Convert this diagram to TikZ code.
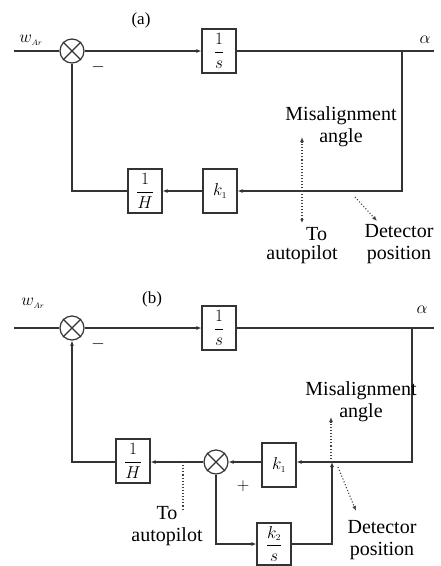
\documentclass[tikz,border=0pt]{standalone}
\usepackage{fontspec}
\setmainfont{Liberation Serif}
\usepackage{amsmath}
\usetikzlibrary{arrows.meta}
\begin{document}
\begin{tikzpicture}[x=1pt,y=-1pt,
  ln/.style={draw=black!80, line width=1.2pt},
  arr/.style={ln,-{Latex[length=5pt,width=4pt]}},
  dline/.style={draw=black!75, line width=1.1pt, dotted},
  darr/.style={dline,-{Latex[length=5pt,width=4pt]}},
  blk/.style={ln, minimum width=34pt, minimum height=44pt, inner sep=0pt, font=\fontsize{18}{18}\selectfont},
  sumc/.style={ln, circle, minimum size=24pt, inner sep=0pt},
  lbl/.style={inner sep=0pt, font=\fontsize{20}{22}\selectfont, align=center},
  sml/.style={inner sep=0pt, font=\fontsize{17}{18}\selectfont}
]
\useasboundingbox (0,0) rectangle (440,566);

% ===== (a) =====
\node[sml] (la) at (141,20) {(a)};
\node[sumc] (sa) at (72,51) {};
\draw[ln] (sa.north west) -- (sa.south east) (sa.north east) -- (sa.south west);
\coordinate (ina) at (14,51);
\node[sml] (wa) at (31,40) {$w_{\scriptscriptstyle Ar}$};
\node[blk] (inta) at (219,51) {$\dfrac{1}{s}$};
\coordinate (outa) at (434,51);
\coordinate (ja) at (402,51);
\coordinate (ca) at (402,191);
\node[sml] (alpa) at (425,40) {$\alpha$};
\node[blk] (k1a) at (220,191) {$k_{\scriptscriptstyle 1}$};
\node[blk] (Ha) at (145,191) {$\dfrac{1}{H}$};
\coordinate (cla) at (72,191);
\node[sml] (ma) at (98,67) {$-$};

\draw[ln] (ina) -- (sa.west);
\draw[arr] (sa.east) -- (inta.west);
\draw[ln] (inta.east) -- (outa);
\draw[arr] (ja) -- (ca) -- (k1a.east);
\draw[arr] (k1a.west) -- (Ha.east);
\draw[ln] (Ha.west) -- (cla) -- (sa.south);

\coordinate (da1) at (302,223);
\coordinate (da2) at (302,137);
\draw[dline,{Latex[length=4pt,width=3.5pt]}-{Latex[length=5pt,width=4pt]}] (da1) -- (da2);
\node[lbl] (misa) at (341,127) {Misalignment\\angle};
\coordinate (dd1) at (355,197);
\coordinate (dd2) at (377,221);
\draw[darr] (dd1) -- (dd2);
\node[lbl,anchor=west] (toa) at (306,234) {To};
\node[lbl] (apa) at (302,255) {autopilot};
\node[lbl] (deta) at (399,244) {Detector\\position};

% ===== (b) =====
\node[sml] (lb) at (152,299) {(b)};
\node[sumc] (sb) at (72,328) {};
\draw[ln] (sb.north west) -- (sb.south east) (sb.north east) -- (sb.south west);
\coordinate (inb) at (14,328);
\node[sml] (wb) at (33,303) {$w_{\scriptscriptstyle Ar}$};
\node[blk] (intb) at (219,328) {$\dfrac{1}{s}$};
\coordinate (outb) at (434,328);
\coordinate (jb) at (412,328);
\coordinate (cb) at (412,462);
\node[sml] (alpb) at (422,310) {$\alpha$};
\node[sml] (mb) at (98,344) {$-$};
\node[blk] (k1b) at (279,465) {$k_{\scriptscriptstyle 1}$};
\node[sumc] (s2b) at (216,462) {};
\draw[ln] (s2b.north west) -- (s2b.south east) (s2b.north east) -- (s2b.south west);
\node[blk] (Hb) at (133,461) {$\dfrac{1}{H}$};
\coordinate (clb) at (72,462);
\coordinate (jx) at (332,462);
\node[blk,minimum height=42pt] (k2b) at (274,544) {$\dfrac{k_{\scriptscriptstyle 2}}{s}$};
\coordinate (bl) at (216,544);
\coordinate (br) at (332,544);
\node[sml] (pb) at (243,486) {$+$};

\draw[ln] (inb) -- (sb.west);
\draw[arr] (sb.east) -- (intb.west);
\draw[ln] (intb.east) -- (outb);
\draw[arr] (jb) -- (cb) -- (k1b.east |- cb);
\draw[arr] (k1b.west |- s2b) -- (s2b.east);
\draw[arr] (s2b.west) -- (Hb.east |- s2b);
\draw[arr] (Hb.west |- clb) -- (clb) -- (sb.south);
\draw[arr] (s2b.south) -- (bl) -- (k2b.west);
\draw[arr] (k2b.east) -- (br) -- (jx);

\coordinate (ta1) at (183,462);
\coordinate (ta2) at (183,510);
\draw[dline] (ta1) -- (ta2);
\node[lbl] (tob) at (167,526) {To\\autopilot};
\coordinate (mb1) at (331,462);
\coordinate (mb2) at (331,417);
\draw[darr] (mb1) -- (mb2);
\node[lbl] (misb) at (361,402) {Misalignment\\angle};
\coordinate (db1) at (338,467);
\coordinate (db2) at (356,511);
\draw[darr] (db1) -- (db2);
\node[lbl] (detb) at (382,540) {Detector\\position};
\end{tikzpicture}
\end{document}
